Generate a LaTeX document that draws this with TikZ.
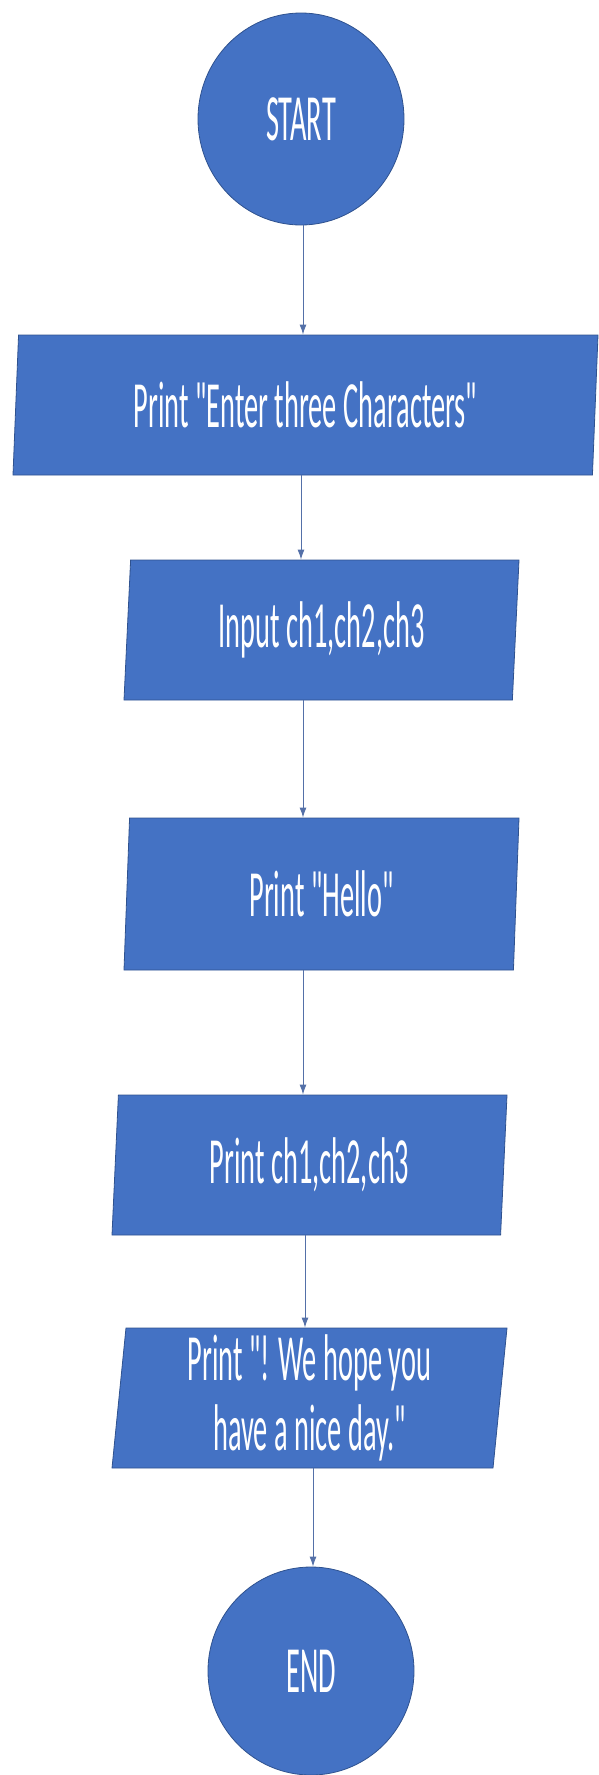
\documentclass[tikz,border=0pt]{standalone}
\usepackage{fontspec}
\newfontfamily\chartfont[FakeStretch=0.43]{Carlito}
\usetikzlibrary{shapes.geometric,arrows.meta}
\definecolor{boxblue}{HTML}{4472C4}
\definecolor{boxedge}{HTML}{2F528F}
\definecolor{flowline}{HTML}{5470A8}
\tikzset{
    term/.style={ellipse,fill=boxblue,draw=boxedge,line width=0.8pt,
        minimum width=206pt,minimum height=212pt,text=white,
        font=\chartfont\fontsize{66}{70}\selectfont},
    io/.style={trapezium,trapezium left angle=84,trapezium right angle=96,
        trapezium stretches body,fill=boxblue,draw=boxedge,line width=0.8pt,
        minimum height=140pt,text=white,align=center,
        font=\chartfont\fontsize{66}{70}\selectfont},
    flow/.style={draw=flowline,line width=1pt}
}
\begin{document}
\begin{tikzpicture}[x=1pt,y=1pt,>={Latex[length=10pt,width=7pt]}]
        \useasboundingbox (0,0) rectangle (598,-1775);

        % draw the start and end
        \node[term] (start) at (301,-119) {START};
        \node[term,minimum height=208pt] (stop) at (311,-1671) {END};

        % draw the steps
        \node[io,minimum width=585pt] (ask) at (305.5,-405) {Print "Enter three Characters"};
        \node[io,minimum width=395pt] (read) at (321.5,-630) {Input ch1,ch2,ch3};
        \node[io,minimum width=395pt,minimum height=152pt] (hello) at (321.5,-894) {Print "Hello"};
        \node[io,minimum width=395pt] (show) at (309.5,-1165) {Print ch1,ch2,ch3};
        \node[io,minimum width=395pt] (bye) at (309.5,-1398) {Print "! We hope you\\have a nice day."};

        % arrows from step to step
        \foreach \a/\b/\x in {
            start/ask/303,
            ask/read/301,
            read/hello/303,
            hello/show/303,
            show/bye/305,
            bye/stop/313}
                \draw[flow,->] (\x,0 |- \a.south) -- (\x,0 |- \b.north);
\end{tikzpicture}
\end{document}
